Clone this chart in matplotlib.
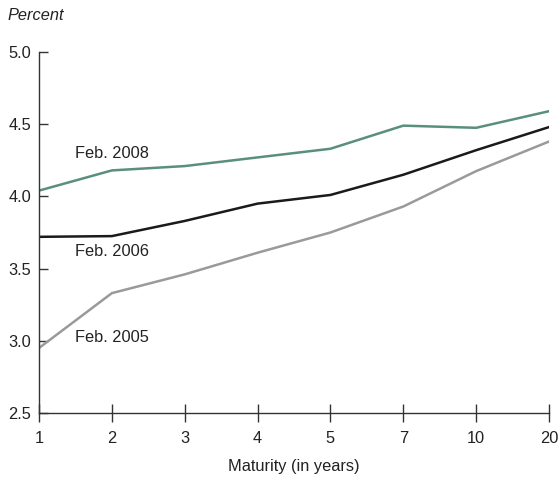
import matplotlib
matplotlib.use("Agg")
import matplotlib.pyplot as plt

plt.rcParams['font.family'] = ['Liberation Sans', 'DejaVu Sans']

maturities = ["1", "2", "3", "4", "5", "7", "10", "20"]
feb2008 = [4.04, 4.18, 4.21, 4.27, 4.33, 4.49, 4.475, 4.59]
feb2006 = [3.72, 3.725, 3.83, 3.95, 4.01, 4.15, 4.32, 4.48]
feb2005 = [2.95, 3.33, 3.46, 3.61, 3.75, 3.93, 4.175, 4.38]
yticks = [2.5, 3.0, 3.5, 4.0, 4.5, 5.0]

FS = 11.8
TXT = "#222222"
fig = plt.figure(figsize=(5.59, 4.78), dpi=100)
ax = fig.add_axes([39/559, 1-413/478, (549-39)/559, (413-52)/478])

x = list(range(len(maturities)))
ax.plot(x, feb2008, color="#5a8f7b", lw=1.8, solid_joinstyle="miter")
ax.plot(x, feb2006, color="#1a1a1a", lw=1.8, solid_joinstyle="miter")
ax.plot(x, feb2005, color="#9a9a9a", lw=1.8, solid_joinstyle="miter")

ax.set_xlim(0, len(maturities)-1)
ax.set_ylim(2.5, 5.0)
ax.set_xticks(x)
ax.set_xticklabels(maturities)
ax.set_yticks(yticks)
ax.set_yticklabels([f"{v:.1f}" for v in yticks])
for s in ["top", "right"]:
    ax.spines[s].set_visible(False)
for s in ["left", "bottom"]:
    ax.spines[s].set_linewidth(1.0)
    ax.spines[s].set_color("#333333")
ax.tick_params(axis="x", direction="inout", length=12.5, width=1.0, color="#333333",
               labelsize=FS, labelcolor=TXT, pad=7)
ax.tick_params(axis="y", direction="in", length=6.5, width=1.0, color="#333333",
               labelsize=FS, labelcolor=TXT, pad=5.5)

ax.text(0.5, 4.30, "Feb. 2008", fontsize=FS, color=TXT, va="center", ha="left")
ax.text(0.5, 3.615, "Feb. 2006", fontsize=FS, color=TXT, va="center", ha="left")
ax.text(0.5, 3.025, "Feb. 2005", fontsize=FS, color=TXT, va="center", ha="left")

ax.set_xlabel("Maturity (in years)", fontsize=FS, color=TXT, labelpad=9)
fig.text(8/559, 1-16/478, "Percent", fontsize=FS, style="italic", color=TXT, va="center", ha="left")

fig.savefig("out.png", dpi=100)
